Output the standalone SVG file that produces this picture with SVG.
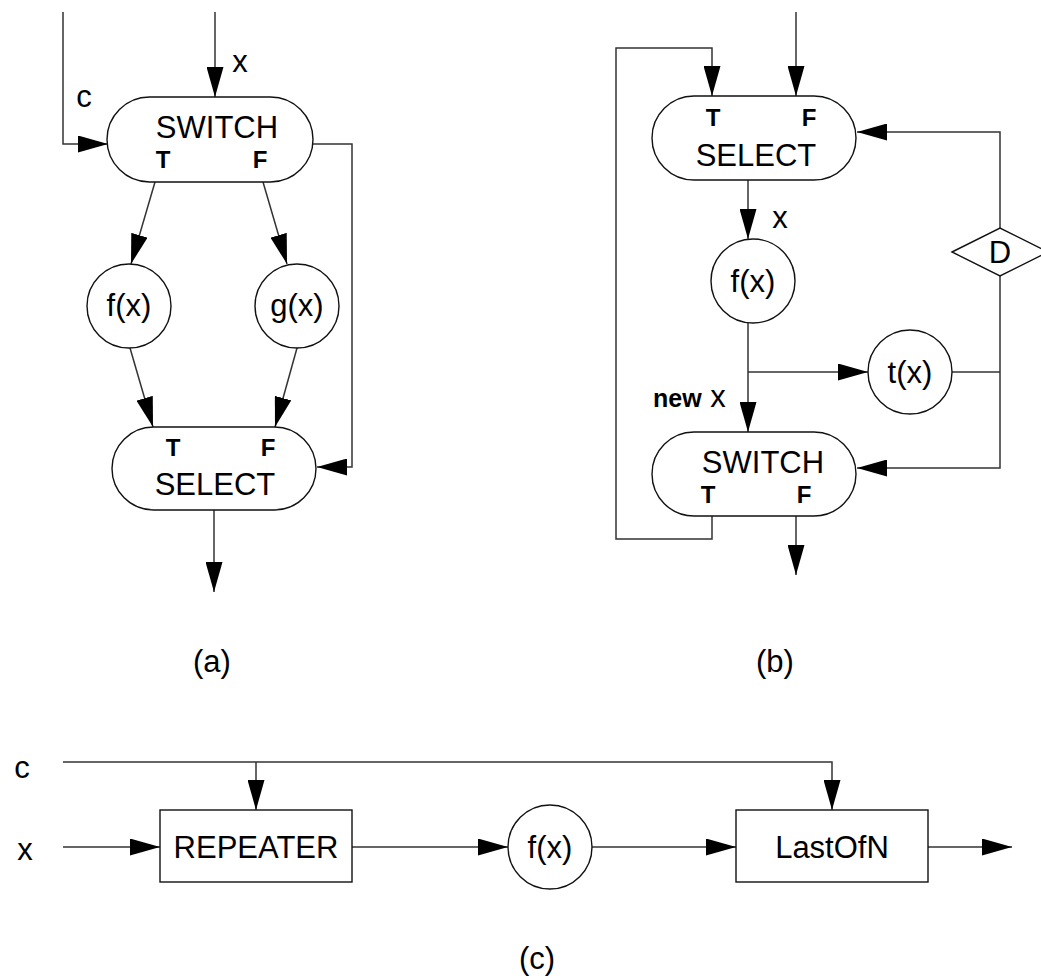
<svg xmlns="http://www.w3.org/2000/svg" width="1041" height="978" viewBox="0 0 1041 978">
<style>
.bg{fill:#fff}
.shape{fill:#fff;stroke:#111;stroke-width:1.4}
.edge{fill:none;stroke:#333;stroke-width:1.5}
text{font-family:"Liberation Sans",Arial,sans-serif;fill:#000}
.lbl{font-size:31px;text-anchor:middle}
.tf{font-size:24px;font-weight:bold;text-anchor:middle}
</style>
<defs>
<marker id="arr" markerUnits="userSpaceOnUse" markerWidth="30" markerHeight="17" refX="30" refY="8.5" orient="auto">
<path d="M0,0 L30,8.5 L0,17 Z" fill="#000"/>
</marker>
</defs>
<rect class="bg" x="0" y="0" width="1041" height="978"/>

<g id="connectors">
<!-- (a) -->
<path class="edge" d="M63,12 V144 H108" marker-end="url(#arr)"/>
<path class="edge" d="M215,12 V97" marker-end="url(#arr)"/>
<path class="edge" d="M313,144 H352 V467 H317" marker-end="url(#arr)"/>
<path class="edge" d="M155,182 L131,264" marker-end="url(#arr)"/>
<path class="edge" d="M263,182 L287,264" marker-end="url(#arr)"/>
<path class="edge" d="M130,348 L153,427" marker-end="url(#arr)"/>
<path class="edge" d="M297,348 L275,427" marker-end="url(#arr)"/>
<path class="edge" d="M214,510 V592" marker-end="url(#arr)"/>
<!-- (b) -->
<path class="edge" d="M796,12 V96" marker-end="url(#arr)"/>
<path class="edge" d="M712,516 V539 H616 V48 H712 V96" marker-end="url(#arr)"/>
<path class="edge" d="M1000,228 V132 H857" marker-end="url(#arr)"/>
<path class="edge" d="M748,180 V239" marker-end="url(#arr)"/>
<path class="edge" d="M748,323 V432" marker-end="url(#arr)"/>
<path class="edge" d="M748,372 H868" marker-end="url(#arr)"/>
<path class="edge" d="M952,372 H1000"/>
<path class="edge" d="M1000,276 V468 H857" marker-end="url(#arr)"/>
<path class="edge" d="M796,516 V575" marker-end="url(#arr)"/>
<!-- (c) -->
<path class="edge" d="M63,762 H832 V810" marker-end="url(#arr)"/>
<path class="edge" d="M256,762 V810" marker-end="url(#arr)"/>
<path class="edge" d="M63,847 H160" marker-end="url(#arr)"/>
<path class="edge" d="M352,847 H508" marker-end="url(#arr)"/>
<path class="edge" d="M592,847 H736" marker-end="url(#arr)"/>
<path class="edge" d="M928,847 H1012" marker-end="url(#arr)"/>
</g>

<!-- (a) nodes -->
<g id="a-switch">
<rect class="shape" x="107" y="97" width="206" height="85" rx="42.5" ry="42.5"/>
<text class="lbl" x="217" y="138">SWITCH</text>
<text class="tf" x="163" y="168">T</text>
<text class="tf" x="260" y="168">F</text>
</g>
<g id="a-fx">
<circle class="shape" cx="129" cy="306" r="42"/>
<text class="lbl" x="129" y="316">f(x)</text>
</g>
<g id="a-gx">
<circle class="shape" cx="297" cy="306" r="42"/>
<text class="lbl" x="297" y="316">g(x)</text>
</g>
<g id="a-select">
<rect class="shape" x="112" y="427" width="204" height="83" rx="41.5" ry="41.5"/>
<text class="tf" x="173" y="456">T</text>
<text class="tf" x="268" y="456">F</text>
<text class="lbl" x="215" y="495">SELECT</text>
</g>
<g id="a-labels">
<text class="lbl" x="84" y="107">c</text>
<text class="lbl" x="240" y="72">x</text>
<text class="lbl" x="212" y="672">(a)</text>
</g>

<!-- (b) nodes -->
<g id="b-select">
<rect class="shape" x="652" y="96" width="204" height="84" rx="42" ry="42"/>
<text class="tf" x="713" y="126">T</text>
<text class="tf" x="809" y="126">F</text>
<text class="lbl" x="756" y="166">SELECT</text>
</g>
<g id="b-fx">
<circle class="shape" cx="753" cy="281" r="42"/>
<text class="lbl" x="753" y="292">f(x)</text>
</g>
<g id="b-tx">
<circle class="shape" cx="910" cy="372" r="42"/>
<text class="lbl" x="910" y="383">t(x)</text>
</g>
<g id="b-d">
<polygon class="shape" points="952,252 1000,228 1048,252 1000,276"/>
<text class="lbl" x="1000" y="263">D</text>
</g>
<g id="b-switch">
<rect class="shape" x="652" y="432" width="204" height="84" rx="42" ry="42"/>
<text class="lbl" x="763" y="473">SWITCH</text>
<text class="tf" x="708" y="503">T</text>
<text class="tf" x="804" y="503">F</text>
</g>
<g id="b-labels">
<text class="lbl" x="780" y="228">x</text>
<text x="653" y="407" style="font-size:25px"><tspan font-weight="bold">new</tspan><tspan style="font-size:31px"> x</tspan></text>
<text class="lbl" x="775" y="672">(b)</text>
</g>

<!-- (c) nodes -->
<g id="c-repeater">
<rect class="shape" x="160" y="810" width="192" height="72"/>
<text class="lbl" x="256" y="858">REPEATER</text>
</g>
<g id="c-fx">
<circle class="shape" cx="550" cy="847" r="42"/>
<text class="lbl" x="550" y="858">f(x)</text>
</g>
<g id="c-lastofn">
<rect class="shape" x="736" y="810" width="192" height="72"/>
<text class="lbl" x="832" y="858">LastOfN</text>
</g>
<g id="c-labels">
<text class="lbl" x="22" y="778">c</text>
<text class="lbl" x="25" y="860">x</text>
<text class="lbl" x="537" y="969">(c)</text>
</g>
</svg>
